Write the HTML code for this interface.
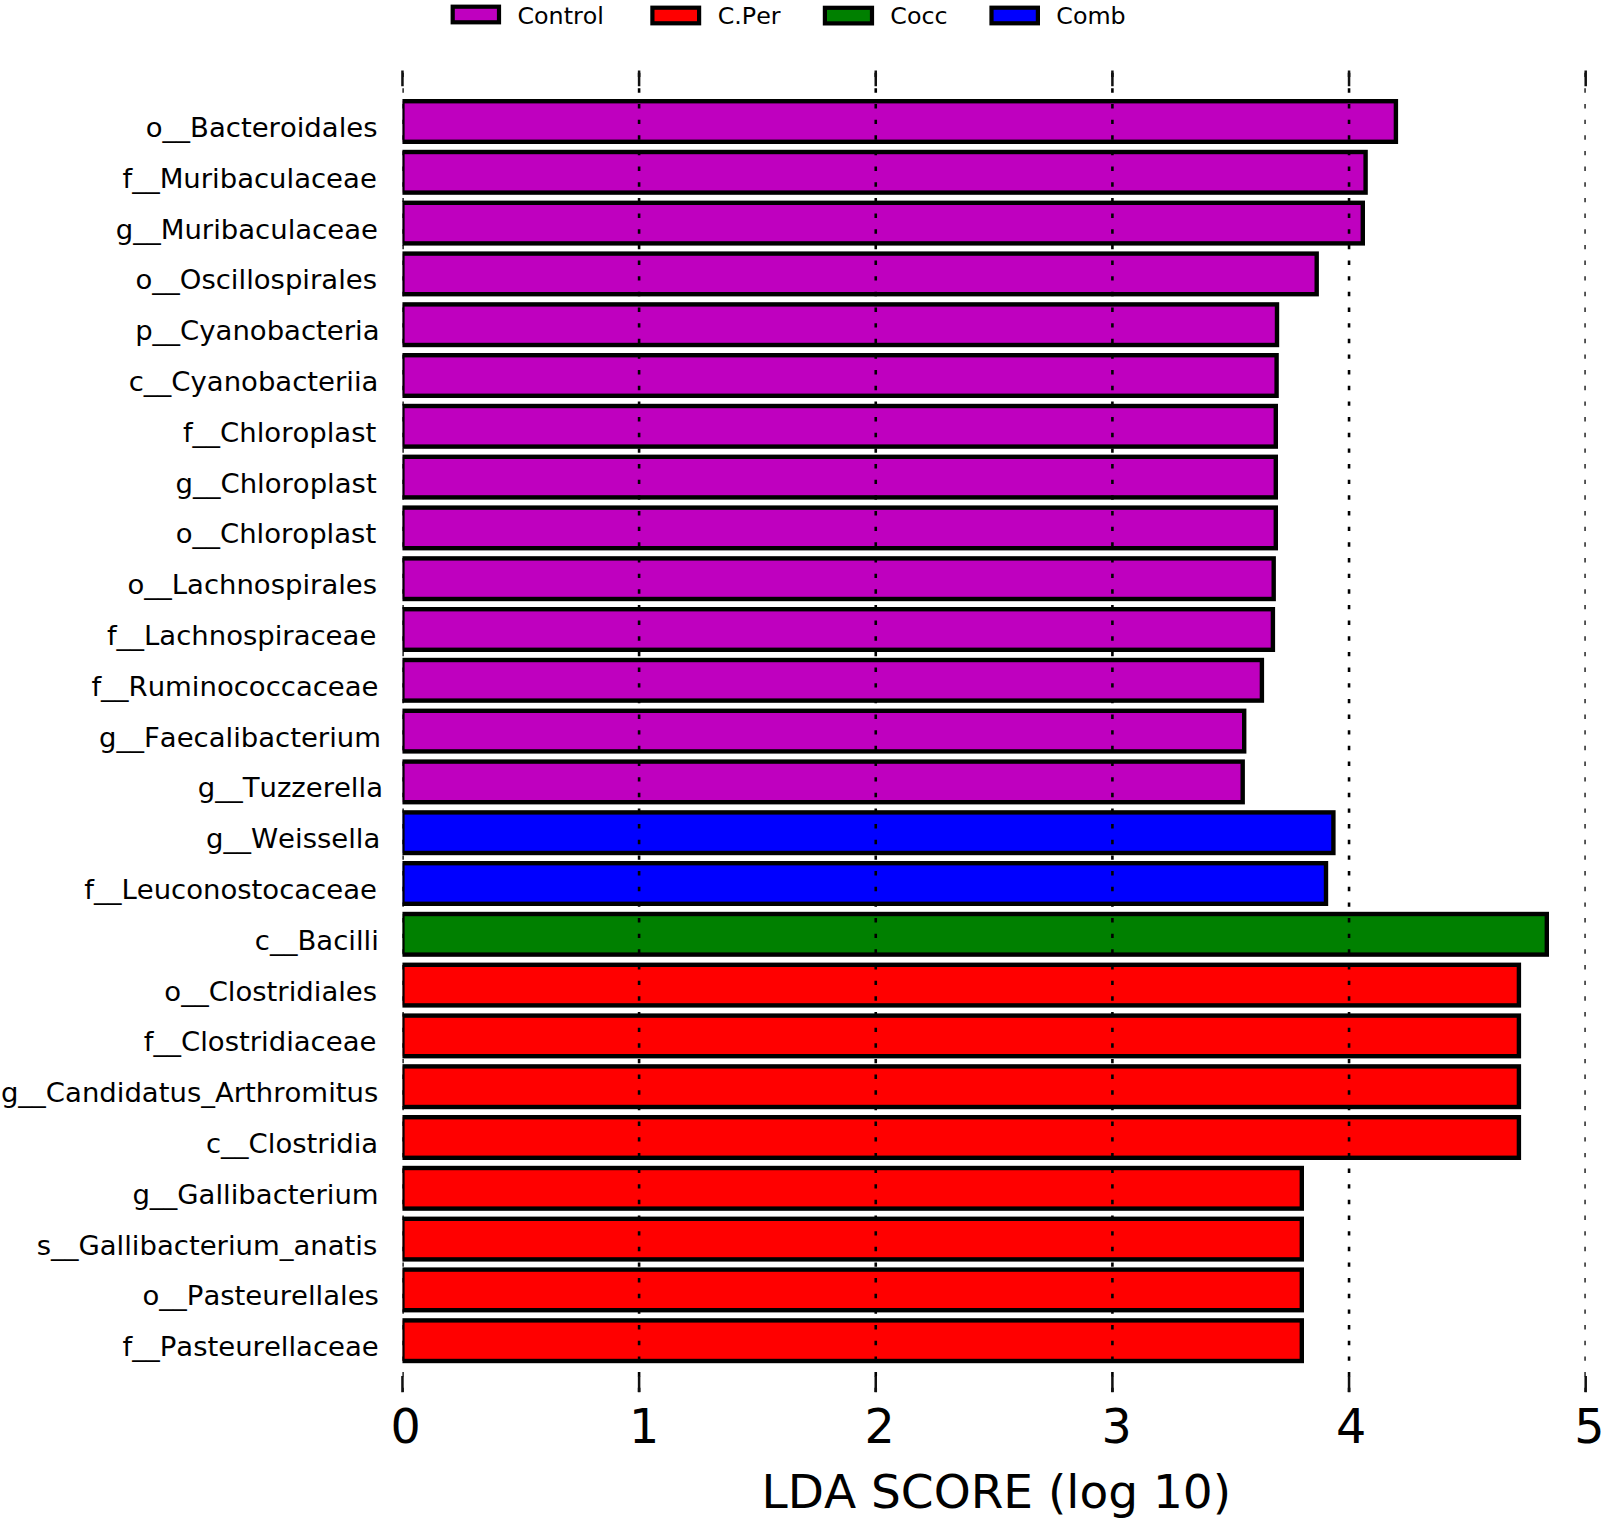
<!DOCTYPE html>
<html lang="en">
<head>
<meta charset="utf-8">
<title>LDA SCORE (log 10)</title>
<style>
html,body{margin:0;padding:0;background:#fff;}
body{width:1605px;height:1522px;overflow:hidden;}
svg{display:block;}
text{font-family:"DejaVu Sans","Liberation Sans",sans-serif;fill:#000;font-kerning:none;font-variant-ligatures:none;}
.yl{font-size:26.9px;}
.xl{font-size:47.6px;}
.lg{font-size:23.75px;}
.ax{font-size:46.4px;}
.bar{stroke:#000;stroke-width:4.4;}
.grid{stroke:#000;stroke-width:2.6;stroke-dasharray:4.4 11.255;fill:none;}
.tick{stroke:#111;stroke-width:2.5;fill:none;}
</style>
</head>
<body>
<svg width="1605" height="1522" viewBox="0 0 1605 1522">
<defs><clipPath id="axclip"><rect x="402.45" y="70" width="1183.25" height="1322.3"/></clipPath></defs>
<rect x="0" y="0" width="1605" height="1522" fill="#ffffff"/>

<g id="legend">
<rect x="452.70" y="6.70" width="46.30" height="15.60" fill="#bf00bf" stroke="#000" stroke-width="4.2"/>
<text class="lg" x="517.50" y="23.5">Control</text>
<rect x="652.40" y="7.70" width="46.70" height="15.60" fill="#ff0000" stroke="#000" stroke-width="4.2"/>
<text class="lg" x="717.70" y="23.9">C.Per</text>
<rect x="824.90" y="7.80" width="47.10" height="15.60" fill="#008000" stroke="#000" stroke-width="4.2"/>
<text class="lg" x="890.30" y="23.8">Cocc</text>
<rect x="991.50" y="7.70" width="46.40" height="15.60" fill="#0000ff" stroke="#000" stroke-width="4.2"/>
<text class="lg" x="1056.30" y="23.6">Comb</text>
</g>
<g id="bars" clip-path="url(#axclip)">
<rect class="bar" x="402.4" y="101.20" width="993.5" height="40.60" fill="#bf00bf"/>
<rect class="bar" x="402.4" y="152.00" width="963.2" height="40.60" fill="#bf00bf"/>
<rect class="bar" x="402.4" y="202.80" width="960.4" height="40.60" fill="#bf00bf"/>
<rect class="bar" x="402.4" y="253.60" width="914.3" height="40.60" fill="#bf00bf"/>
<rect class="bar" x="402.4" y="304.40" width="874.6" height="40.60" fill="#bf00bf"/>
<rect class="bar" x="402.4" y="355.20" width="874.2" height="40.60" fill="#bf00bf"/>
<rect class="bar" x="402.4" y="406.00" width="873.4" height="40.60" fill="#bf00bf"/>
<rect class="bar" x="402.4" y="456.80" width="873.4" height="40.60" fill="#bf00bf"/>
<rect class="bar" x="402.4" y="507.60" width="873.4" height="40.60" fill="#bf00bf"/>
<rect class="bar" x="402.4" y="558.40" width="871.3" height="40.60" fill="#bf00bf"/>
<rect class="bar" x="402.4" y="609.20" width="870.5" height="40.60" fill="#bf00bf"/>
<rect class="bar" x="402.4" y="660.00" width="859.5" height="40.60" fill="#bf00bf"/>
<rect class="bar" x="402.4" y="710.80" width="841.8" height="40.60" fill="#bf00bf"/>
<rect class="bar" x="402.4" y="761.60" width="840.3" height="40.60" fill="#bf00bf"/>
<rect class="bar" x="402.4" y="812.40" width="931.0" height="40.60" fill="#0000ff"/>
<rect class="bar" x="402.4" y="863.20" width="923.6" height="40.60" fill="#0000ff"/>
<rect class="bar" x="402.4" y="914.00" width="1144.4" height="40.60" fill="#008000"/>
<rect class="bar" x="402.4" y="964.80" width="1116.5" height="40.60" fill="#ff0000"/>
<rect class="bar" x="402.4" y="1015.60" width="1116.5" height="40.60" fill="#ff0000"/>
<rect class="bar" x="402.4" y="1066.40" width="1116.5" height="40.60" fill="#ff0000"/>
<rect class="bar" x="402.4" y="1117.20" width="1116.5" height="40.60" fill="#ff0000"/>
<rect class="bar" x="402.4" y="1168.00" width="899.4" height="40.60" fill="#ff0000"/>
<rect class="bar" x="402.4" y="1218.80" width="899.4" height="40.60" fill="#ff0000"/>
<rect class="bar" x="402.4" y="1269.60" width="899.4" height="40.60" fill="#ff0000"/>
<rect class="bar" x="402.4" y="1320.40" width="899.4" height="40.60" fill="#ff0000"/>
</g>
<g id="grid" clip-path="url(#axclip)">
<path class="grid" d="M402.45 1392.1V70"/>
<path class="grid" d="M639.10 1392.1V70"/>
<path class="grid" d="M875.75 1392.1V70"/>
<path class="grid" d="M1112.40 1392.1V70"/>
<path class="grid" d="M1349.05 1392.1V70"/>
<path class="grid" d="M1585.70 1392.1V70"/>
</g>
<g id="ticks">
<path class="tick" d="M402.45 70.5V86.2M402.45 1375.9V1392.2"/>
<path class="tick" d="M639.10 70.5V86.2M639.10 1375.9V1392.2"/>
<path class="tick" d="M875.75 70.5V86.2M875.75 1375.9V1392.2"/>
<path class="tick" d="M1112.40 70.5V86.2M1112.40 1375.9V1392.2"/>
<path class="tick" d="M1349.05 70.5V86.2M1349.05 1375.9V1392.2"/>
<path class="tick" d="M1585.70 70.5V86.2M1585.70 1375.9V1392.2"/>
</g>
<g id="ylabels">
<text class="yl" transform="translate(377.50 137.0) scale(1.0223 1)" text-anchor="end">o__Bacteroidales</text>
<text class="yl" transform="translate(376.80 187.8) scale(1.0223 1)" text-anchor="end">f__Muribaculaceae</text>
<text class="yl" transform="translate(377.90 238.6) scale(1.0223 1)" text-anchor="end">g__Muribaculaceae</text>
<text class="yl" transform="translate(377.00 289.4) scale(1.0223 1)" text-anchor="end">o__Oscillospirales</text>
<text class="yl" transform="translate(379.50 340.2) scale(1.0223 1)" text-anchor="end">p__Cyanobacteria</text>
<text class="yl" transform="translate(378.40 391.0) scale(1.0223 1)" text-anchor="end">c__Cyanobacteriia</text>
<text class="yl" transform="translate(376.30 441.8) scale(1.0223 1)" text-anchor="end">f__Chloroplast</text>
<text class="yl" transform="translate(376.70 492.6) scale(1.0223 1)" text-anchor="end">g__Chloroplast</text>
<text class="yl" transform="translate(376.20 543.4) scale(1.0223 1)" text-anchor="end">o__Chloroplast</text>
<text class="yl" transform="translate(377.10 594.2) scale(1.0223 1)" text-anchor="end">o__Lachnospirales</text>
<text class="yl" transform="translate(376.30 645.0) scale(1.0223 1)" text-anchor="end">f__Lachnospiraceae</text>
<text class="yl" transform="translate(378.50 695.8) scale(1.0223 1)" text-anchor="end">f__Ruminococcaceae</text>
<text class="yl" transform="translate(381.00 746.6) scale(1.0223 1)" text-anchor="end">g__Faecalibacterium</text>
<text class="yl" transform="translate(383.00 797.4) scale(1.0223 1)" text-anchor="end">g__Tuzzerella</text>
<text class="yl" transform="translate(380.30 848.2) scale(1.0223 1)" text-anchor="end">g__Weissella</text>
<text class="yl" transform="translate(376.90 899.0) scale(1.0223 1)" text-anchor="end">f__Leuconostocaceae</text>
<text class="yl" transform="translate(378.80 949.8) scale(1.0223 1)" text-anchor="end">c__Bacilli</text>
<text class="yl" transform="translate(377.10 1000.6) scale(1.0223 1)" text-anchor="end">o__Clostridiales</text>
<text class="yl" transform="translate(376.40 1051.4) scale(1.0223 1)" text-anchor="end">f__Clostridiaceae</text>
<text class="yl" transform="translate(378.30 1102.2) scale(1.0223 1)" text-anchor="end">g__Candidatus_Arthromitus</text>
<text class="yl" transform="translate(378.20 1153.0) scale(1.0223 1)" text-anchor="end">c__Clostridia</text>
<text class="yl" transform="translate(378.60 1203.8) scale(1.0223 1)" text-anchor="end">g__Gallibacterium</text>
<text class="yl" transform="translate(377.30 1254.6) scale(1.0223 1)" text-anchor="end">s__Gallibacterium_anatis</text>
<text class="yl" transform="translate(378.90 1305.4) scale(1.0223 1)" text-anchor="end">o__Pasteurellales</text>
<text class="yl" transform="translate(378.70 1356.2) scale(1.0223 1)" text-anchor="end">f__Pasteurellaceae</text>
</g>
<g id="xlabels">
<text class="xl" x="390.50" y="1442.9">0</text>
<text class="xl" x="629.00" y="1442.9">1</text>
<text class="xl" x="864.50" y="1442.9">2</text>
<text class="xl" x="1101.50" y="1442.9">3</text>
<text class="xl" x="1335.90" y="1442.9">4</text>
<text class="xl" x="1574.20" y="1442.9">5</text>
</g>
<text class="ax" x="761.50" y="1507.8" textLength="469.6" lengthAdjust="spacingAndGlyphs">LDA SCORE (log 10)</text>
</svg>
</body>
</html>
